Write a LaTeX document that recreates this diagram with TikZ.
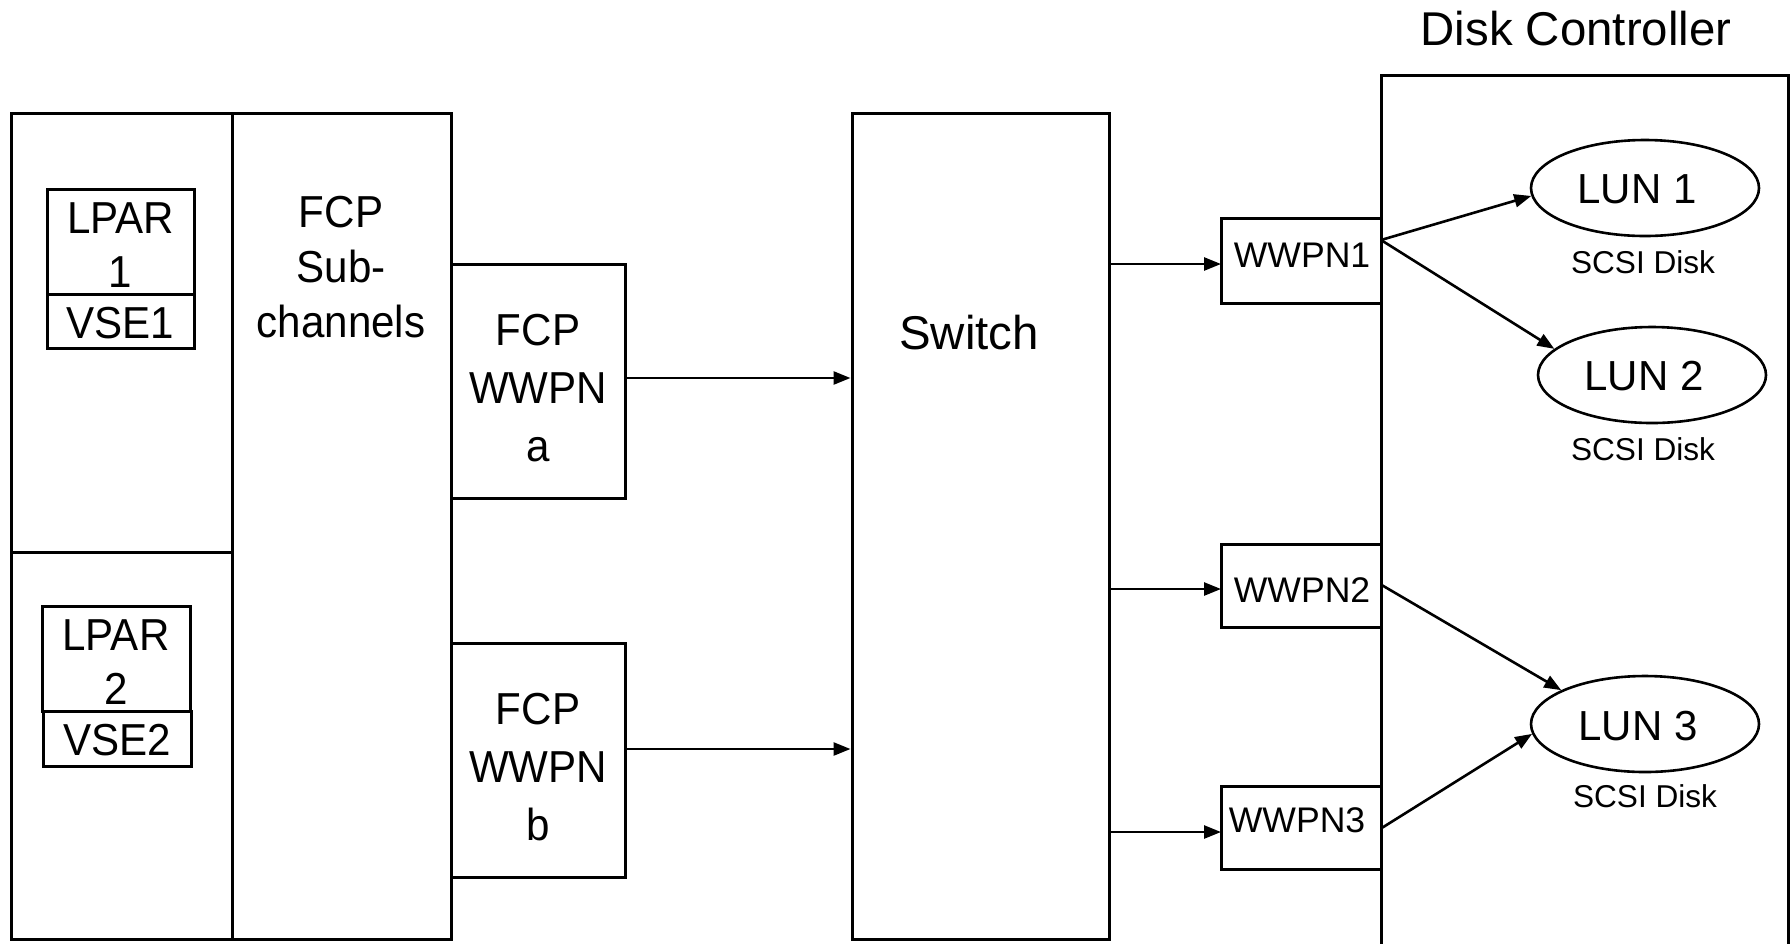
\documentclass[tikz,border=0pt]{standalone}
\usepackage{fontspec}
\setmainfont{Liberation Sans}
\newfontfamily\condfont{Liberation Sans}[FakeStretch=0.94]
\usetikzlibrary{arrows.meta,shapes.geometric}
\begin{document}
\begin{tikzpicture}[x=0.5pt,y=-0.5pt,
  box/.style={draw,line width=1.5pt,rectangle,inner sep=0pt},
  lbl/.style={font=\condfont\fontsize{22.4}{27}\selectfont,align=center,inner sep=0pt},
  wlbl/.style={font=\condfont\fontsize{22.4}{29}\selectfont,align=center,inner sep=0pt},
  big/.style={font=\fontsize{23.7}{28}\selectfont,inner sep=0pt},
  port/.style={box,minimum width=80pt},
  plbl/.style={font=\fontsize{17.8}{21}\selectfont,inner sep=0pt},
  scsi/.style={font=\fontsize{15.8}{19}\selectfont,inner sep=0pt},
  lun/.style={draw,line width=1.3pt,ellipse,inner sep=0pt,minimum width=114pt,minimum height=48pt},
  lunlbl/.style={font=\fontsize{21}{25}\selectfont,inner sep=0pt},
  arr/.style={line width=1.3pt,-{Triangle[length=8.5pt,width=6.5pt]}}]
\useasboundingbox (0,0) rectangle (1791,943);
\clip (0,0) rectangle (1791,943);
\fill[white] (0,0) rectangle (1791,943);

% left column
\node[box,minimum width=110.5pt,minimum height=219.5pt] (lpartop) at (121.5,332.5) {};
\node[box,minimum width=110.5pt,minimum height=193.5pt] (lparbot) at (121.5,745.5) {};
\node[box,minimum width=73.5pt,minimum height=52.5pt] (lpar1) at (120.5,241.5) {};
\node[lbl] (lpar1txt) at ([yshift=-1.8pt]lpar1.center) {LPAR\\1};
\node[box,minimum width=73.5pt,minimum height=27pt] (vse1) at (120.5,321) {};
\node[lbl] (vse1txt) at ([yshift=-1pt]vse1.center) {VSE1};
\node[box,minimum width=74pt,minimum height=52.5pt] (lpar2) at (116,658.5) {};
\node[lbl] (lpar2txt) at ([yshift=-1.8pt]lpar2.center) {LPAR\\2};
\node[box,minimum width=74pt,minimum height=27.5pt] (vse2) at (117,738.5) {};
\node[lbl] (vse2txt) at ([yshift=-1pt]vse2.center) {VSE2};

% FCP subchannels
\node[box,minimum width=109.5pt,minimum height=413pt] (fcpsub) at (341.5,526) {};
\node[lbl,font=\condfont\fontsize{22.4}{27.7}\selectfont] (fcpsubtxt) at (341,267) {FCP\\Sub-\\channels};

% FCP WWPNs
\node[box,minimum width=87pt,minimum height=117pt] (wwpna) at (538,381) {};
\node[wlbl] (wwpnatxt) at (538,388) {FCP\\WWPN\\a};
\node[box,minimum width=87pt,minimum height=117pt] (wwpnb) at (538,760) {};
\node[wlbl] (wwpnbtxt) at (538,767) {FCP\\WWPN\\b};

% Switch
\node[box,minimum width=128.5pt,minimum height=413pt] (switch) at (980.5,526) {};
\node[big] (switchtxt) at (969,333) {Switch};

% Disk controller
\node[box,minimum width=203.5pt,minimum height=462.5pt] (dc) at (1584.5,537.5) {};
\node[big] (dctxt) at (1576,29) {Disk Controller};

% target ports
\node[port,minimum height=42.5pt] (w1) at (1301,260.5) {};
\node[plbl] (w1txt) at (1302,255) {WWPN1};
\node[port,minimum height=41.5pt] (w2) at (1301,585.5) {};
\node[plbl] (w2txt) at (1302,590) {WWPN2};
\node[port,minimum height=41.5pt] (w3) at (1301,827.5) {};
\node[plbl] (w3txt) at (1297,820) {WWPN3};

% LUNs
\node[lun] (lun1) at (1645,188) {};
\node[lunlbl] (lun1txt) at (1637,189) {LUN 1};
\node[lun] (lun2) at (1652,375) {};
\node[lunlbl] (lun2txt) at (1644,376) {LUN 2};
\node[lun] (lun3) at (1645,724) {};
\node[lunlbl] (lun3txt) at (1638,726) {LUN 3};
\node[scsi] (scsi1) at (1643,262) {SCSI Disk};
\node[scsi] (scsi2) at (1643,449) {SCSI Disk};
\node[scsi] (scsi3) at (1645,796) {SCSI Disk};

% connectors
\coordinate (aout) at (625,378);
\coordinate (bout) at (625,749);
\coordinate (w1in) at (1221,264);
\coordinate (w2in) at (1221,589);
\coordinate (w3in) at (1221,832);
\draw[arr] (aout) -- (aout -| switch.west);
\draw[arr] (bout) -- (bout -| switch.west);
\draw[arr] (switch.east |- w1in) -- (w1in);
\draw[arr] (switch.east |- w2in) -- (w2in);
\draw[arr] (switch.east |- w3in) -- (w3in);
\coordinate (w1out) at (1381,240);
\draw[arr] (w1out) -- (lun1.184);
\draw[arr] (w1out) -- (lun2.165);
\draw[arr] (w2.east) -- (lun3.158);
\draw[arr] (w3.east) -- (lun3.185);
\end{tikzpicture}
\end{document}
